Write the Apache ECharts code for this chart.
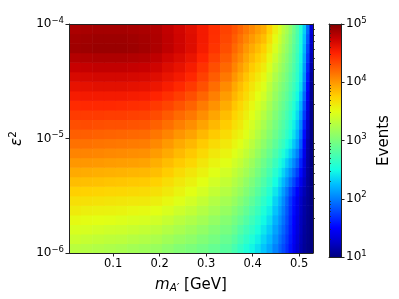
<!DOCTYPE html>
<html>
<head>
<meta charset="utf-8">
<script src="https://cdn.jsdelivr.net/npm/echarts@6/dist/echarts.min.js"></script>
<style>html,body{margin:0;padding:0;background:#fff}#c{width:399px;height:299px}</style>
</head>
<body>
<div id="c"></div>
<script>
// cell edges along the mass axis (GeV)
const mEdges = [0.005, 0.03, 0.055, 0.08, 0.105, 0.13, 0.155, 0.18, 0.205, 0.23, 0.255, 0.28, 0.305, 0.33, 0.355,
  0.3675, 0.38, 0.3925, 0.405, 0.4175, 0.43, 0.4425, 0.455,
  0.4625, 0.47, 0.4775, 0.485, 0.4925, 0.5, 0.5075, 0.515, 0.5225, 0.53];
// cell edges along epsilon^2 (log10)
const epsExpEdges = [-6, -5.9167, -5.8333, -5.75, -5.6667, -5.5833, -5.5, -5.4167, -5.3333, -5.25, -5.1667, -5.0833,
  -5, -4.9167, -4.8333, -4.75, -4.6667, -4.5833, -4.5, -4.4167, -4.3333, -4.25, -4.1667, -4.0833, -4];
// log10(Events): one row per epsilon^2 band (bottom to top), one value per mass cell
const logEvents = [
  [3.30,3.28,3.26,3.24,3.22,3.19,3.17,3.14,3.09,3.04,3.00,2.95,2.89,2.83,2.74,2.64,2.55,2.47,2.38,2.27,2.16,2.01,1.89,1.79,1.68,1.56,1.42,1.29,1.16,1.08,1.03,1.00],
  [3.38,3.36,3.34,3.32,3.31,3.28,3.26,3.23,3.18,3.13,3.09,3.03,2.97,2.90,2.82,2.72,2.63,2.55,2.45,2.34,2.23,2.08,1.95,1.84,1.72,1.59,1.45,1.32,1.18,1.09,1.04,1.00],
  [3.45,3.44,3.42,3.40,3.39,3.37,3.35,3.32,3.27,3.22,3.17,3.11,3.04,2.98,2.90,2.80,2.71,2.63,2.53,2.41,2.30,2.14,2.01,1.89,1.76,1.62,1.48,1.34,1.20,1.10,1.05,1.00],
  [3.53,3.51,3.50,3.49,3.47,3.45,3.44,3.41,3.36,3.30,3.25,3.19,3.12,3.05,2.97,2.89,2.80,2.70,2.60,2.48,2.37,2.20,2.07,1.94,1.80,1.65,1.50,1.36,1.21,1.12,1.05,1.00],
  [3.61,3.59,3.58,3.57,3.56,3.54,3.53,3.50,3.45,3.39,3.34,3.27,3.20,3.13,3.05,2.97,2.88,2.78,2.68,2.55,2.44,2.27,2.13,1.99,1.84,1.68,1.53,1.39,1.23,1.13,1.06,1.00],
  [3.68,3.67,3.66,3.65,3.64,3.63,3.62,3.59,3.54,3.48,3.42,3.35,3.27,3.20,3.13,3.05,2.96,2.86,2.75,2.62,2.51,2.33,2.19,2.04,1.88,1.71,1.56,1.41,1.25,1.14,1.07,1.00],
  [3.76,3.75,3.74,3.73,3.72,3.71,3.70,3.67,3.62,3.56,3.50,3.43,3.35,3.28,3.20,3.13,3.04,2.94,2.83,2.70,2.58,2.41,2.27,2.11,1.96,1.79,1.64,1.48,1.31,1.18,1.08,1.00],
  [3.84,3.83,3.82,3.81,3.80,3.79,3.78,3.75,3.69,3.63,3.57,3.50,3.42,3.35,3.27,3.20,3.11,3.01,2.90,2.78,2.66,2.50,2.36,2.22,2.08,1.92,1.77,1.61,1.42,1.24,1.09,1.00],
  [3.92,3.91,3.90,3.89,3.88,3.87,3.86,3.83,3.77,3.70,3.64,3.57,3.49,3.42,3.34,3.27,3.19,3.09,2.98,2.86,2.74,2.59,2.46,2.33,2.19,2.05,1.90,1.74,1.53,1.30,1.10,1.01],
  [4.00,4.00,3.99,3.98,3.97,3.96,3.95,3.90,3.84,3.78,3.72,3.64,3.56,3.49,3.41,3.35,3.26,3.16,3.05,2.93,2.82,2.68,2.55,2.44,2.31,2.18,2.03,1.87,1.63,1.35,1.12,1.01],
  [4.08,4.08,4.07,4.06,4.05,4.04,4.03,3.98,3.92,3.85,3.79,3.71,3.63,3.56,3.48,3.42,3.34,3.24,3.13,3.01,2.90,2.77,2.65,2.55,2.43,2.31,2.16,2.00,1.74,1.41,1.13,1.02],
  [4.16,4.16,4.15,4.14,4.13,4.12,4.11,4.06,3.99,3.92,3.86,3.78,3.70,3.63,3.55,3.49,3.41,3.31,3.20,3.09,2.98,2.86,2.74,2.66,2.54,2.44,2.29,2.13,1.85,1.47,1.14,1.02],
  [4.24,4.24,4.23,4.22,4.21,4.20,4.19,4.14,4.08,4.01,3.95,3.86,3.78,3.70,3.61,3.56,3.48,3.38,3.27,3.16,3.05,2.93,2.82,2.74,2.63,2.53,2.39,2.22,1.94,1.54,1.18,1.03],
  [4.31,4.32,4.31,4.30,4.30,4.29,4.28,4.23,4.17,4.10,4.04,3.95,3.86,3.77,3.68,3.62,3.53,3.43,3.33,3.22,3.10,2.98,2.87,2.79,2.69,2.58,2.45,2.29,2.03,1.63,1.25,1.04],
  [4.39,4.39,4.39,4.38,4.38,4.37,4.36,4.32,4.26,4.19,4.13,4.04,3.94,3.84,3.74,3.67,3.59,3.49,3.39,3.28,3.16,3.03,2.92,2.84,2.74,2.64,2.51,2.36,2.11,1.72,1.32,1.05],
  [4.46,4.47,4.47,4.47,4.46,4.45,4.44,4.40,4.35,4.29,4.22,4.12,4.02,3.91,3.80,3.73,3.64,3.54,3.44,3.35,3.21,3.08,2.97,2.89,2.80,2.69,2.57,2.42,2.20,1.81,1.38,1.06],
  [4.54,4.55,4.55,4.55,4.55,4.54,4.53,4.49,4.44,4.38,4.31,4.21,4.10,3.98,3.87,3.79,3.70,3.60,3.50,3.41,3.27,3.13,3.02,2.94,2.86,2.75,2.63,2.49,2.28,1.90,1.45,1.07],
  [4.61,4.62,4.63,4.63,4.63,4.62,4.61,4.58,4.53,4.47,4.40,4.30,4.18,4.05,3.93,3.84,3.75,3.65,3.56,3.47,3.32,3.18,3.07,2.99,2.91,2.80,2.69,2.56,2.37,1.99,1.52,1.08],
  [4.68,4.69,4.70,4.70,4.70,4.69,4.68,4.65,4.60,4.55,4.48,4.37,4.25,4.13,4.01,3.91,3.81,3.71,3.63,3.54,3.39,3.24,3.13,3.05,2.96,2.85,2.74,2.61,2.42,2.06,1.58,1.10],
  [4.75,4.76,4.77,4.77,4.77,4.76,4.75,4.72,4.66,4.61,4.54,4.43,4.31,4.20,4.08,3.98,3.88,3.78,3.70,3.61,3.46,3.31,3.19,3.10,3.01,2.90,2.78,2.64,2.45,2.11,1.65,1.15],
  [4.82,4.83,4.84,4.84,4.84,4.83,4.82,4.78,4.72,4.67,4.60,4.49,4.37,4.26,4.14,4.05,3.94,3.85,3.77,3.69,3.54,3.38,3.25,3.15,3.06,2.94,2.82,2.67,2.48,2.16,1.72,1.19],
  [4.89,4.90,4.91,4.91,4.91,4.90,4.88,4.84,4.78,4.72,4.65,4.54,4.42,4.31,4.20,4.11,4.00,3.92,3.84,3.76,3.61,3.45,3.32,3.20,3.11,2.99,2.85,2.71,2.51,2.21,1.78,1.24],
  [4.88,4.89,4.90,4.90,4.90,4.89,4.87,4.84,4.78,4.72,4.65,4.55,4.44,4.34,4.25,4.16,4.07,3.99,3.91,3.84,3.69,3.52,3.38,3.25,3.16,3.03,2.89,2.74,2.54,2.26,1.85,1.28],
  [4.85,4.86,4.87,4.87,4.87,4.86,4.85,4.83,4.77,4.71,4.64,4.55,4.45,4.36,4.29,4.21,4.13,4.06,3.98,3.91,3.76,3.59,3.44,3.30,3.21,3.08,2.93,2.77,2.57,2.31,1.92,1.33]
];
const xTicks = [0.1, 0.2, 0.3, 0.4, 0.5];
const yTicks = [1e-6, 1e-5, 1e-4];
const yMinorTicks = [2e-6,3e-6,4e-6,5e-6,6e-6,7e-6,8e-6,9e-6,2e-5,3e-5,4e-5,5e-5,6e-5,7e-5,8e-5,9e-5];
const cbTicks = [1e1, 1e2, 1e3, 1e4, 1e5];
const cbMinorTicks = [20,30,40,50,60,70,80,90,200,300,400,500,600,700,800,900,2000,3000,4000,5000,6000,7000,8000,9000,20000,30000,40000,50000,60000,70000,80000,90000];
const jet = ['#000080','#0000c8','#0000ff','#0040ff','#0080ff','#00bfff','#14ffe2','#48ffaf','#7bff7b','#afff48','#e2ff14','#ffd200','#ff9700','#ff5c00','#ff2100','#c80000','#800000'];

const cells = [];
for (let j = 0; j < logEvents.length; j++) {
  for (let i = 0; i < mEdges.length - 1; i++) {
    cells.push([mEdges[i], mEdges[i + 1], Math.pow(10, epsExpEdges[j]), Math.pow(10, epsExpEdges[j + 1]), logEvents[j][i]]);
  }
}
const FONT = 'DejaVu Sans';
const supLabel = (v) => { const e = Math.round(Math.log10(v)); return '{b|10}{s|' + (e < 0 ? '\u2212' + (-e) : e) + '}'; };
const supRich = { b: { fontSize: 12, fontFamily: FONT, color: '#000' }, s: { fontSize: 8.5, fontFamily: FONT, color: '#000', padding: [0, 0, 7, 0] } };
const lineC = '#222';
const bare = { axisTick: { show: false }, axisLabel: { show: false }, splitLine: { show: false } };
const frame = { show: true, onZero: false, lineStyle: { color: lineC, width: 1 } };

const chart = echarts.init(document.getElementById('c'), null, { renderer: 'canvas' });
chart.setOption({
  animation: false,
  grid: [
    { left: 68, top: 24, width: 245, height: 233 },
    { left: 329, top: 24, width: 12, height: 233 }
  ],
  visualMap: {
    show: false, seriesIndex: 0, dimension: 4, min: 1, max: 5,
    inRange: { color: jet }
  },
  xAxis: [
    { type: 'value', gridIndex: 0, min: 0.005, max: 0.53, z: 10,
      axisLine: frame,
      axisTick: { show: true, length: 3.5, customValues: xTicks, lineStyle: { color: lineC } },
      axisLabel: { customValues: xTicks, formatter: (v) => v.toFixed(1), fontSize: 11.5, fontFamily: FONT, color: '#000', margin: 5 },
      splitLine: { show: false },
      name: '{i|m}{sub|A\u2032}{n| [GeV]}', nameLocation: 'middle', nameGap: 23,
      nameTextStyle: { rich: {
        i: { fontSize: 15, fontFamily: FONT, fontStyle: 'italic', color: '#000' },
        sub: { fontSize: 10.5, fontFamily: FONT, fontStyle: 'italic', color: '#000', padding: [7, 0, 0, 0] },
        n: { fontSize: 15, fontFamily: FONT, color: '#000' } } }
    },
    Object.assign({ type: 'value', gridIndex: 0, position: 'top', min: 0.005, max: 0.53, z: 10, axisLine: frame }, bare),
    Object.assign({ type: 'value', gridIndex: 1, min: 0, max: 1, z: 10, axisLine: frame }, bare),
    Object.assign({ type: 'value', gridIndex: 1, position: 'top', min: 0, max: 1, z: 10, axisLine: frame }, bare)
  ],
  yAxis: [
    { type: 'log', logBase: 10, gridIndex: 0, min: 1e-6, max: 1e-4, z: 10,
      axisLine: frame,
      axisTick: { show: true, length: 3.5, customValues: yTicks, lineStyle: { color: lineC } },
      axisLabel: { customValues: yTicks, formatter: supLabel, rich: supRich, margin: 5 },
      splitLine: { show: false },
      name: '{e|\u03b5}{s|2}', nameLocation: 'middle', nameRotate: 90, nameGap: 42,
      nameTextStyle: { rich: {
        e: { fontSize: 15, fontFamily: FONT, fontStyle: 'italic', color: '#000' },
        s: { fontSize: 10.5, fontFamily: FONT, color: '#000', padding: [0, 0, 8, 0] } } }
    },
    { type: 'log', logBase: 10, gridIndex: 0, min: 1e-6, max: 1e-4, z: 10,
      axisLine: { show: false },
      axisTick: { show: true, length: 2, customValues: yMinorTicks, lineStyle: { color: lineC, width: 0.8 } },
      axisLabel: { show: false }, splitLine: { show: false } },
    Object.assign({ type: 'log', logBase: 10, gridIndex: 0, position: 'right', min: 1e-6, max: 1e-4, z: 10, axisLine: frame }, bare),
    Object.assign({ type: 'log', logBase: 10, gridIndex: 1, position: 'left', min: 10, max: 1e5, z: 10, axisLine: frame }, bare),
    { type: 'log', logBase: 10, gridIndex: 1, position: 'right', min: 10, max: 1e5, z: 10,
      axisLine: frame,
      axisTick: { show: true, length: 3.5, customValues: cbTicks, lineStyle: { color: lineC } },
      axisLabel: { customValues: cbTicks, formatter: supLabel, rich: supRich, margin: 5 },
      splitLine: { show: false },
      name: 'Events', nameLocation: 'middle', nameRotate: 90, nameGap: 36,
      nameTextStyle: { fontSize: 15, fontFamily: FONT, color: '#000' } },
    { type: 'log', logBase: 10, gridIndex: 1, position: 'right', min: 10, max: 1e5, z: 10,
      axisLine: { show: false },
      axisTick: { show: true, length: 2, customValues: cbMinorTicks, lineStyle: { color: lineC, width: 0.8 } },
      axisLabel: { show: false }, splitLine: { show: false } }
  ],
  series: [
    { type: 'custom', xAxisIndex: 0, yAxisIndex: 0, clip: true,
      dimensions: ['m0', 'm1', 'e0', 'e1', 'logEvents'],
      encode: { x: [0, 1], y: [2, 3] },
      data: cells,
      renderItem: (params, api) => {
        const p0 = api.coord([api.value(0), api.value(3)]);
        const p1 = api.coord([api.value(1), api.value(2)]);
        return { type: 'rect', shape: { x: p0[0], y: p0[1], width: p1[0] - p0[0] + 0.6, height: p1[1] - p0[1] + 0.6 },
          style: { fill: api.visual('color') } };
      }
    },
    { type: 'custom', xAxisIndex: 2, yAxisIndex: 3, clip: true,
      data: [[0, 1, 10, 1e5]],
      encode: { x: [0, 1], y: [2, 3] },
      renderItem: (params, api) => {
        const p0 = api.coord([api.value(0), api.value(3)]);
        const p1 = api.coord([api.value(1), api.value(2)]);
        return { type: 'rect', shape: { x: p0[0], y: p0[1], width: p1[0] - p0[0], height: p1[1] - p0[1] },
          style: { fill: { type: 'linear', x: 0, y: 1, x2: 0, y2: 0,
            colorStops: jet.map((c, k) => ({ offset: k / (jet.length - 1), color: c })) } } };
      }
    }
  ]
});
</script>
</body>
</html>
